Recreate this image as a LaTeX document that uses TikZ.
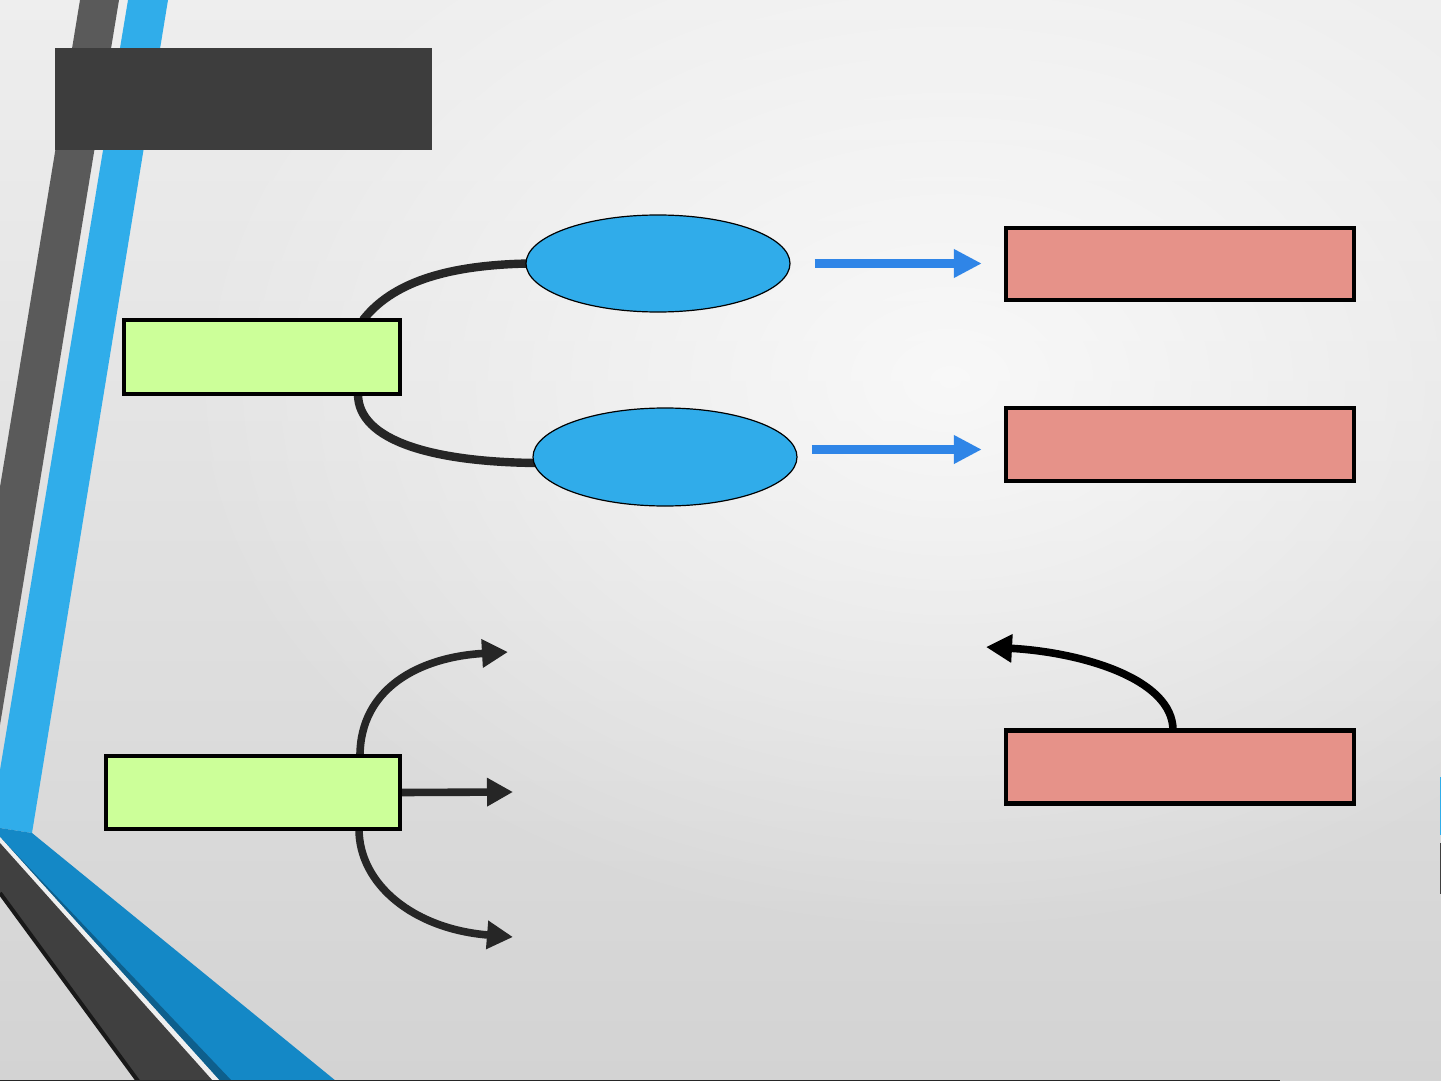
\documentclass[tikz,border=0pt]{standalone}
\usetikzlibrary{arrows.meta,shapes.geometric,calc,fadings}
\definecolor{bgtop}{HTML}{EEEEEE}
\definecolor{bgbottom}{HTML}{D3D3D3}
\definecolor{stripegray}{HTML}{5A5A5A}
\definecolor{stripeblue}{HTML}{30ADEA}
\definecolor{bandblue}{HTML}{1488C6}
\definecolor{banddark}{HTML}{0E5F8C}
\definecolor{bandgray}{HTML}{404040}
\definecolor{titlegray}{HTML}{3D3D3D}
\definecolor{greenfill}{HTML}{CCFF99}
\definecolor{pinkfill}{HTML}{E69289}
\definecolor{blobblue}{HTML}{30ACEA}
\definecolor{arrowblue}{HTML}{2F85E7}
\definecolor{curvegray}{HTML}{262626}
\tikzfading[name=glowfade, inner color=transparent!0, outer color=transparent!100]
\pgfdeclarelayer{back}
\pgfdeclarelayer{mid}
\pgfsetlayers{back,mid,main}
\begin{document}
\begin{tikzpicture}[x=0.5pt,y=-0.5pt,
  greenbox/.style={draw=black, line width=2pt, fill=greenfill, inner sep=0pt, minimum height=37pt},
  pinkbox/.style={draw=black, line width=2.2pt, fill=pinkfill, inner sep=0pt, minimum width=174pt, minimum height=36pt},
  blob/.style={ellipse, draw=black, line width=0.6pt, fill=blobblue, inner sep=0pt, minimum width=132pt, minimum height=48.5pt},
  darkcurve/.style={draw=curvegray, line width=4.2pt},
  blackarrow/.style={draw=curvegray, line width=3.8pt, -{Triangle[length=13pt,width=13.5pt]}},
  bluearrow/.style={draw=arrowblue, line width=4.5pt, -{Triangle[length=14pt,width=13.5pt]}},
  titlebox/.style={fill=titlegray, inner sep=0pt, minimum width=188.5pt, minimum height=51pt}
]
\useasboundingbox (0,0) rectangle (1441,1081);
\begin{pgfonlayer}{back}
\clip (0,0) rectangle (1441,1081);
\shade[top color=bgtop, bottom color=bgbottom] (0,0) rectangle (1441,1081);
\fill[white, fill opacity=0.75, path fading=glowfade] (950,380) ellipse (780 and 560);
% left decoration
\fill[stripegray] (80,0) -- (119,0) -- (0,725) -- (0,487) -- cycle;
\fill[stripeblue] (128,0) -- (168,0) -- (32,833) -- (0,828) -- (0,770) -- cycle;
\fill[bandblue] (0,828) -- (32,833) -- (336,1081) -- (220,1081) -- (0,837) -- cycle;
\fill[banddark] (0,837) -- (232,1081) -- (220,1081) -- cycle;
\fill[bgtop!95!white] (0,837) -- (220,1081) -- (213,1081) -- (0,843) -- cycle;
\fill[bandgray] (0,843) -- (213,1081) -- (139,1081) -- (0,893) -- cycle;
\draw[line width=2pt, black!90] (0,893) -- (138,1081);
\draw[line width=0.6pt, black!85] (0,1080.4) -- (1280,1080.4);
\fill[stripeblue] (1440,777) rectangle (1441,835);
\fill[bandgray] (1440,843) rectangle (1441,894);
\end{pgfonlayer}

\node[titlebox] (title) at (243.5,99) {};

\node[greenbox, minimum width=138pt] (g1) at (262,357) {};
\node[greenbox, minimum width=147pt, minimum height=36.5pt] (g2) at (253,792.5) {};
\node[blob] (e1) at (658,263.5) {};
\node[blob, minimum height=49pt] (e2) at (665,457) {};
\node[pinkbox] (p1) at (1180,264) {};
\node[pinkbox, minimum height=36.5pt] (p2) at (1180,444.5) {};
\node[pinkbox, minimum height=36.5pt] (p3) at (1180,767) {};

\coordinate (t1) at (508,652);
\coordinate (t2) at (513,792);
\coordinate (t3) at (513,937);
\coordinate (t4) at (986,647);

\begin{pgfonlayer}{mid}
\draw[darkcurve] ($(g1.north east)+(-39,2)$) .. controls +(28,-36) and +(-86,1.5) .. ($(e1.west)+(4,0)$);
\draw[darkcurve] ($(g1.south east)+(-44,-2)$) .. controls +(0,47) and +(-103,-1) .. ($(e2.west)+(4,6)$);
\draw[blackarrow] ($(g2.north east)+(-42,2)$) .. controls +(0,-68) and +(-88,5) .. (t1);
\draw[blackarrow] (g2.east) -- (t2);
\draw[blackarrow] ($(g2.south east)+(-43,-2)$) .. controls +(0,55) and +(-100,-8) .. (t3);
\draw[blackarrow, draw=black] ($(p3.north)+(-7,2)$) .. controls +(0,-52) and +(94,5) .. (t4);
\end{pgfonlayer}

\draw[bluearrow] ($(e1.east)+(24,0)$) -- ($(p1.west)+(-22,-0.5)$);
\draw[bluearrow] ($(p2.west)+(-192,5)$) -- ($(p2.west)+(-22,5)$);
\end{tikzpicture}
\end{document}
